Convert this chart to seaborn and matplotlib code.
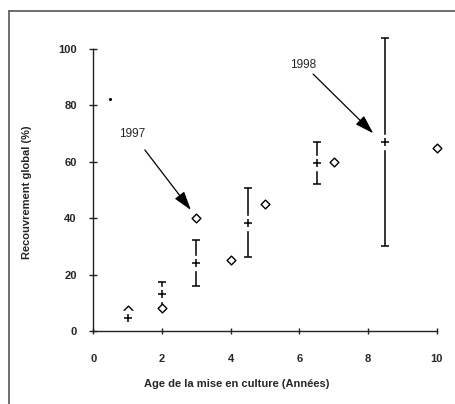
import matplotlib
matplotlib.use("Agg")
import matplotlib.pyplot as plt
from matplotlib.lines import Line2D
import seaborn as sns
import pandas as pd

# mean cover (+) with min / max bars, by age of cultivation
age_mean = [1, 2, 3, 4.5, 6.5, 8.5]
cover_mean = [4.7, 13, 24, 38.4, 59.5, 67.1]
cover_low = [4.7, 8, 16, 26.3, 52, 30.1]
cover_high = [4.7, 17.5, 32.3, 50.8, 67.1, 103.8]

# single fields (diamonds)
age_field = [1, 2, 3, 4, 5, 7, 10]
cover_field = [7.5, 8, 40, 25, 45, 60, 65]

# stray dot on the scan
speck_x = [0.49]
speck_y = [82.3]

sns.set_style("ticks")
plt.rcParams["font.family"] = ["Liberation Sans", "DejaVu Sans"]

means = pd.DataFrame({"age": age_mean, "cover": cover_mean,
                      "low": cover_low, "high": cover_high})
fields = pd.DataFrame({"age": age_field, "cover": cover_field})

fig = plt.figure(figsize=(4.55, 4.04), dpi=100)
ax = fig.add_axes([0.2051, 0.1807, 0.7774, 0.754])

err = [means["cover"] - means["low"], means["high"] - means["cover"]]
ax.errorbar(means["age"], means["cover"], yerr=err, fmt="none", ecolor="black",
            elinewidth=1.1, capsize=3, capthick=1.1, clip_on=False, zorder=1)

sns.scatterplot(data=fields, x="age", y="cover", marker="D", s=20,
                color="white", edgecolor="black", linewidth=1.0,
                clip_on=False, zorder=3, ax=ax)

# white patch behind the crosses makes the gap in the bars
ax.plot(means["age"], means["cover"], ls="none", marker="s", ms=10,
        mfc="white", mec="white", clip_on=False, zorder=4)
ax.plot(means["age"], means["cover"], ls="none", marker="+", ms=6,
        mew=1.1, color="black", clip_on=False, zorder=5)

ax.plot(speck_x, speck_y, ls="none", marker="o", ms=1.2, color="black", zorder=5)

ax.set_xlim(0, 10.3)
ax.set_ylim(0, 108)
ax.set_xticks([0, 2, 4, 6, 8, 10])
ax.set_yticks([0, 20, 40, 60, 80, 100])
sns.despine(ax=ax)
ax.spines["left"].set_bounds(0, 100)
ax.spines["bottom"].set_bounds(0, 10)
for s in ["left", "bottom"]:
    ax.spines[s].set_linewidth(1.0)
    ax.spines[s].set_color("#222222")
ax.tick_params(axis="x", direction="inout", length=5, width=1.0, pad=14,
               labelsize=8, color="#222222")
ax.tick_params(axis="y", direction="inout", length=6, width=1.0, pad=9,
               labelsize=8, color="#222222")
for lab in ax.get_xticklabels() + ax.get_yticklabels():
    lab.set_fontweight("bold")

ax.set_xlabel("Age de la mise en culture (Années)", fontsize=8,
              fontweight="bold", va="center")
ax.set_ylabel("Recouvrement global (%)", fontsize=8, fontweight="bold",
              va="center")
ax.xaxis.set_label_coords(0.404, -0.174)
ax.yaxis.set_label_coords(-0.188, 0.456)

arrow = dict(arrowstyle="-|>,head_length=1.15,head_width=0.36",
             color="black", lw=0.9, mutation_scale=10,
             shrinkA=0, shrinkB=0)
ax.text(1.13, 69.9, "1997", fontsize=8.5, ha="center", va="center")
ax.annotate("", xy=(2.84, 42.9), xytext=(1.5, 64.2), arrowprops=arrow,
            annotation_clip=False)
ax.text(6.12, 94.3, "1998", fontsize=8.5, ha="center", va="center")
ax.annotate("", xy=(8.15, 70.1), xytext=(6.4, 91.1), arrowprops=arrow,
            annotation_clip=False)

# scanned frame around the figure
fx = 8.5 / 455
fy = 1 - 10.5 / 404
fig.add_artist(Line2D([fx, 1], [fy, fy], transform=fig.transFigure,
                      color="#555555", lw=1.2))
fig.add_artist(Line2D([fx, fx], [0, fy], transform=fig.transFigure,
                      color="#555555", lw=1.2))

fig.savefig("out.png", dpi=100)
